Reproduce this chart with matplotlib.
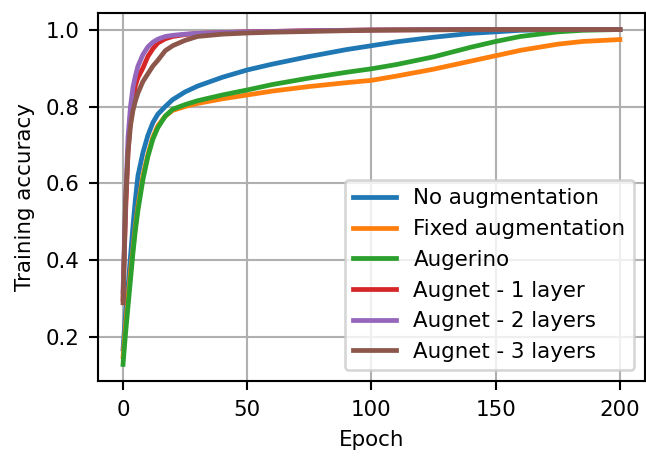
import numpy as np
import matplotlib
matplotlib.use('Agg')
import matplotlib.pyplot as plt

epochs = [0, 1, 2, 3, 4, 5, 6, 8, 10, 12, 14, 17, 20, 25, 30, 40, 50, 60, 75,
          90, 100, 110, 125, 140, 150, 160, 175, 185, 200]

no_aug = [0.17, 0.26, 0.33, 0.41, 0.49, 0.56, 0.62, 0.68, 0.725, 0.758, 0.78, 0.80, 0.818,
          0.838, 0.853, 0.876, 0.895, 0.91, 0.93, 0.948, 0.958, 0.968, 0.98, 0.99, 0.994,
          0.998, 1.0, 1.0, 1.0]
fixed_aug = [0.15, 0.23, 0.30, 0.37, 0.43, 0.49, 0.54, 0.62, 0.675, 0.72, 0.75, 0.775, 0.79,
             0.80, 0.808, 0.82, 0.83, 0.84, 0.852, 0.862, 0.868, 0.879, 0.897, 0.918, 0.932,
             0.946, 0.962, 0.969, 0.974]
augerino = [0.13, 0.21, 0.28, 0.35, 0.42, 0.48, 0.53, 0.61, 0.67, 0.715, 0.745, 0.775, 0.793,
            0.805, 0.815, 0.83, 0.843, 0.857, 0.874, 0.889, 0.898, 0.909, 0.929, 0.954, 0.969,
            0.982, 0.994, 0.998, 1.0]
augnet1 = [0.30, 0.52, 0.68, 0.77, 0.82, 0.855, 0.875, 0.90, 0.93, 0.95, 0.965, 0.976, 0.982,
           0.987, 0.99, 0.992, 0.994, 0.995, 0.997, 0.998, 0.999, 0.999, 1.0, 1.0, 1.0,
           1.0, 1.0, 1.0, 1.0]
augnet2 = [0.32, 0.55, 0.72, 0.80, 0.85, 0.88, 0.905, 0.935, 0.955, 0.967, 0.975, 0.982, 0.985,
           0.988, 0.99, 0.992, 0.994, 0.995, 0.997, 0.998, 0.999, 0.999, 1.0, 1.0, 1.0,
           1.0, 1.0, 1.0, 1.0]
augnet3 = [0.29, 0.55, 0.68, 0.75, 0.79, 0.815, 0.835, 0.865, 0.885, 0.905, 0.92, 0.945, 0.958,
           0.972, 0.982, 0.988, 0.991, 0.993, 0.995, 0.997, 0.998, 0.999, 0.999, 1.0, 1.0,
           1.0, 1.0, 1.0, 1.0]

labels = ['No augmentation', 'Fixed augmentation', 'Augerino',
          'Augnet - 1 layer', 'Augnet - 2 layers', 'Augnet - 3 layers']
series = [no_aug, fixed_aug, augerino, augnet1, augnet2, augnet3]

plt.rcParams['font.size'] = 8.1

fig = plt.figure(figsize=(646/190, 457/190), dpi=190)
ax = fig.add_axes([0.152, 0.166, 0.846, 0.806])

for vals, lab in zip(series, labels):
    ax.plot(epochs, vals, lw=1.8, label=lab)

ax.set_xlabel('Epoch')
ax.set_ylabel('Training accuracy')
ax.set_xticks([0, 50, 100, 150, 200])
ax.set_yticks([0.2, 0.4, 0.6, 0.8, 1.0])
ax.grid(True, lw=0.8, color='#b0b0b0')
ax.legend(loc='lower right')

fig.savefig('out.png', dpi=190)
